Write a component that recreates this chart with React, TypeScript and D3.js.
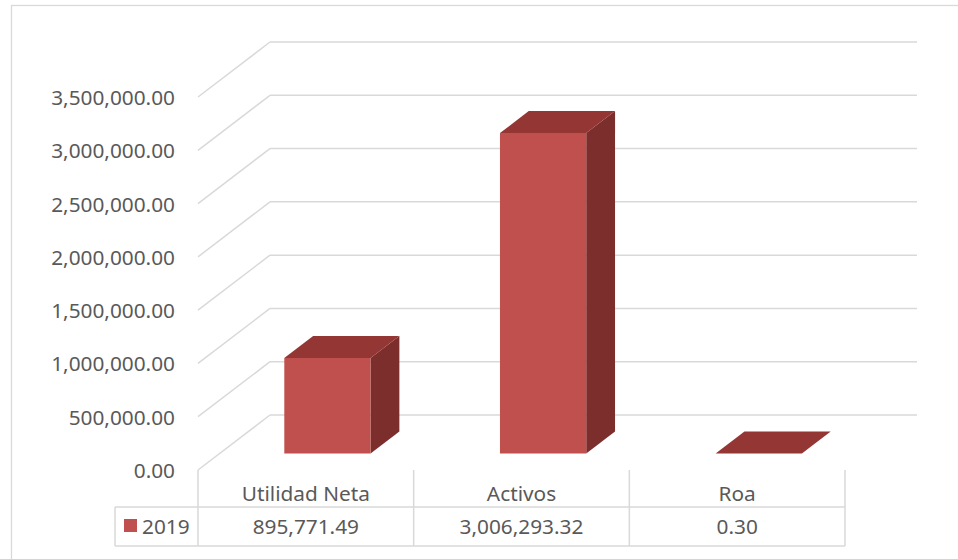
import React from "react";
import * as d3 from "d3";

const categories = ["Utilidad Neta", "Activos", "Roa"];
const values2019 = [895771.49, 3006293.32, 0.3];
const seriesName = "2019";
const yTicks = [0, 500000, 1000000, 1500000, 2000000, 2500000, 3000000, 3500000];

const W = 958;
const H = 559;
const DX = 72;
const DY = -55;
const FONT = "'Noto Sans', 'Open Sans', sans-serif";
const TEXT = "#595959";
const GRID = "#D9D9D9";
const FS = 20.8;

export default function App() {
  const y = d3.scaleLinear().domain([0, 3500000]).range([470, 97]);
  const x = d3.scaleBand<string>().domain(categories).range([198, 845]).padding(0);
  const bw = x.bandwidth();
  const d0 = 0.3;
  const d1 = 0.7;
  const fmt = d3.format(",.2f");
  const proj = (xf: number, v: number, d: number): [number, number] => [xf + d * DX, y(v) + d * DY];
  const poly = (pts: [number, number][]) => pts.map((p) => p.join(",")).join(" ");
  const tableTop = y(0);
  const rowSep = 507;
  const tableBottom = 546;
  const legendLeft = 115;
  const xEnd = x.range()[1];

  return (
    <svg width={W} height={H} style={{ position: "absolute", left: 0, top: 0, background: "#fff" }} fontFamily={FONT}>
      <rect x={11.5} y={5.5} width={980} height={600} fill="#fff" stroke={GRID} strokeWidth={1.3} />
      {yTicks.map((t) => {
        const [bx0, by] = proj(x.range()[0], t, 1);
        const [bx1] = proj(xEnd, t, 1);
        return (
          <g key={t}>
            <line x1={x.range()[0]} y1={y(t)} x2={bx0} y2={by} stroke={GRID} strokeWidth={1.5} />
            <line x1={bx0} y1={by} x2={bx1} y2={by} stroke={GRID} strokeWidth={1.5} />
            <text x={175} y={y(t)} textAnchor="end" dominantBaseline="central" fontSize={FS} fill={TEXT}>
              {fmt(t)}
            </text>
          </g>
        );
      })}
      {categories.map((c, i) => {
        const v = values2019[i];
        const xl = (x(c) as number) + bw * 0.3;
        const xr = (x(c) as number) + bw * 0.7;
        const front = [proj(xl, 0, d0), proj(xr, 0, d0), proj(xr, v, d0), proj(xl, v, d0)];
        const side = [proj(xr, 0, d0), proj(xr, 0, d1), proj(xr, v, d1), proj(xr, v, d0)];
        const top = [proj(xl, v, d0), proj(xr, v, d0), proj(xr, v, d1), proj(xl, v, d1)];
        return (
          <g key={c}>
            <polygon points={poly(side)} fill="#7B2E2C" />
            <polygon points={poly(front)} fill="#C0504D" />
            <polygon points={poly(top)} fill="#943634" />
          </g>
        );
      })}
      {[...categories.map((c) => x(c) as number), xEnd].map((xv, i) => (
        <line key={"v" + i} x1={xv} y1={tableTop} x2={xv} y2={tableBottom} stroke={GRID} strokeWidth={1.5} />
      ))}
      <line x1={legendLeft} y1={rowSep} x2={xEnd} y2={rowSep} stroke={GRID} strokeWidth={1.5} />
      <line x1={legendLeft} y1={tableBottom} x2={xEnd} y2={tableBottom} stroke={GRID} strokeWidth={1.5} />
      <line x1={legendLeft} y1={rowSep} x2={legendLeft} y2={tableBottom} stroke={GRID} strokeWidth={1.5} />
      {categories.map((c, i) => (
        <g key={"t" + c}>
          <text x={(x(c) as number) + bw / 2} y={493} textAnchor="middle" dominantBaseline="central" fontSize={FS} fill={TEXT}>
            {c}
          </text>
          <text x={(x(c) as number) + bw / 2} y={526} textAnchor="middle" dominantBaseline="central" fontSize={FS} fill={TEXT}>
            {fmt(values2019[i])}
          </text>
        </g>
      ))}
      <rect x={124} y={519} width={13} height={13} fill="#C0504D" />
      <text x={142} y={526} dominantBaseline="central" fontSize={FS} fill={TEXT}>
        {seriesName}
      </text>
    </svg>
  );
}
